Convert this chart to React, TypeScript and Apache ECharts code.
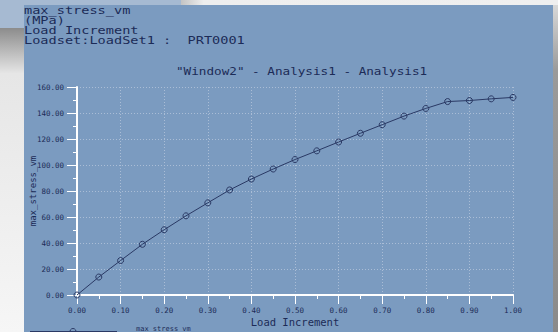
import React, { useEffect, useRef } from "react";
import * as echarts from "echarts";

const loadIncrement = [0, 0.05, 0.1, 0.15, 0.2, 0.25, 0.3, 0.35, 0.4, 0.45, 0.5, 0.55, 0.6, 0.65, 0.7, 0.75, 0.8, 0.85, 0.9, 0.95, 1.0];
const maxStressVm = [0, 13.8, 26.5, 39.0, 50.2, 60.9, 70.9, 80.8, 89.2, 96.9, 104.2, 110.9, 117.7, 124.4, 131.0, 137.6, 143.5, 148.8, 149.6, 150.9, 152.0];
const headerLines = ["max_stress_vm", "(MPa)", "Load Increment", "Loadset:LoadSet1 :  PRT0001"];
const chartTitle = '"Window2" - Analysis1 - Analysis1';
const seriesName = "max_stress_vm";
const xAxisName = "Load Increment";
const yAxisName = "max_stress_vm";

const NAVY = "#1c2b57";
const LINE = "#2a3964";
const MONO = "'DejaVu Sans Mono', monospace";

export default function App() {
  const ref = useRef<HTMLDivElement>(null);
  useEffect(() => {
    document.body.style.margin = "0";
    const chart = echarts.init(ref.current!, null, { renderer: "svg" });
    const data = loadIncrement.map((x, i) => [x, maxStressVm[i]]);
    chart.setOption({
      animation: false,
      backgroundColor: "#7b9bc0",
      grid: { left: 77, right: 45, top: 87, bottom: 36 },
      xAxis: {
        type: "value",
        min: 0,
        max: 1,
        interval: 0.1,
        name: xAxisName,
        nameLocation: "middle",
        nameGap: 21,
        nameMoveOverlap: false,
        nameTextStyle: { fontFamily: MONO, fontSize: 10.5, color: NAVY, verticalAlign: "top", lineHeight: 11 },
        axisLine: { show: true, lineStyle: { color: "#ffffff", width: 2 } },
        axisTick: { show: true, length: 9, lineStyle: { color: "#ffffff", width: 1 } },
        minorTick: { show: true, splitNumber: 2, length: 4, lineStyle: { color: "#ffffff", width: 1 } },
        axisLabel: { fontFamily: MONO, fontSize: 7.5, lineHeight: 8, color: NAVY, margin: 11, formatter: (v: number) => v.toFixed(2) },
        splitLine: { show: true, lineStyle: { color: "#aabdd6", type: [1, 2], width: 1 } },
      },
      yAxis: {
        type: "value",
        min: 0,
        max: 160,
        interval: 20,
        name: yAxisName,
        nameLocation: "middle",
        nameGap: 40,
        nameMoveOverlap: false,
        nameTextStyle: { fontFamily: MONO, fontSize: 9, color: NAVY },
        axisLine: { show: true, lineStyle: { color: "#ffffff", width: 2 } },
        axisTick: { show: true, length: 10, lineStyle: { color: "#ffffff", width: 1 } },
        minorTick: { show: true, splitNumber: 2, length: 4, lineStyle: { color: "#ffffff", width: 1 } },
        axisLabel: { fontFamily: MONO, fontSize: 7.5, color: NAVY, margin: 13, formatter: (v: number) => v.toFixed(2) },
        splitLine: { show: true, lineStyle: { color: "#aabdd6", type: [1, 2], width: 1 } },
      },
      series: [
        {
          name: seriesName,
          type: "line",
          data,
          symbol: "circle",
          symbolSize: 6,
          itemStyle: { color: "transparent", borderColor: LINE, borderWidth: 1 },
          lineStyle: { color: LINE, width: 1 },
          z: 3,
        },
      ],
      graphic: [
        { type: "rect", shape: { x: 0, y: 0, width: 181, height: 5 }, style: { fill: "#a6bad2" }, silent: true },
        {
          type: "rect",
          shape: { x: 181, y: 0, width: 377, height: 5 },
          style: {
            fill: new echarts.graphic.LinearGradient(0, 0, 1, 0, [
              { offset: 0, color: "#c4c4c4" },
              { offset: 0.06, color: "#eeeeee" },
              { offset: 1, color: "#efefef" },
            ]),
          },
          silent: true,
        },
        { type: "rect", shape: { x: 0, y: 0, width: 24, height: 28 }, style: { fill: "#a6bad2" }, silent: true },
        {
          type: "rect",
          shape: { x: 0, y: 28, width: 24, height: 304 },
          style: {
            fill: new echarts.graphic.LinearGradient(0, 0, 0, 1, [
              { offset: 0, color: "#8c8c8c" },
              { offset: 0.15, color: "#e6e6e6" },
              { offset: 1, color: "#f6f6f6" },
            ]),
          },
          silent: true,
        },
        {
          type: "rect",
          shape: { x: 553, y: 5, width: 5, height: 327 },
          style: {
            fill: new echarts.graphic.LinearGradient(0, 0, 0, 1, [
              { offset: 0, color: "#d8d8d8" },
              { offset: 0.2, color: "#9a9a9a" },
              { offset: 1, color: "#8a8a8a" },
            ]),
          },
          silent: true,
        },
        ...headerLines.map((t, i) => ({
          type: "text",
          x: 24,
          y: 6 + i * 10,
          scaleX: 1.36,
          style: { text: t, font: `10px ${MONO}`, fill: NAVY, verticalAlign: "top" },
          silent: true,
        })),
        {
          type: "text",
          x: 176,
          y: 66,
          scaleX: 1.15,
          style: { text: chartTitle, font: `11px ${MONO}`, fill: NAVY, verticalAlign: "top" },
          silent: true,
        },
        { type: "line", shape: { x1: 30, y1: 331.5, x2: 117, y2: 331.5 }, style: { stroke: LINE, lineWidth: 1 }, silent: true },
        { type: "circle", shape: { cx: 73, cy: 331.5, r: 3 }, style: { stroke: LINE, fill: "transparent", lineWidth: 1 }, silent: true },
        {
          type: "text",
          x: 136,
          y: 325,
          style: { text: seriesName, font: `7px ${MONO}`, fill: NAVY, verticalAlign: "top" },
          silent: true,
        },
      ],
    });
    return () => chart.dispose();
  }, []);
  return <div ref={ref} style={{ width: 558, height: 332 }} />;
}
